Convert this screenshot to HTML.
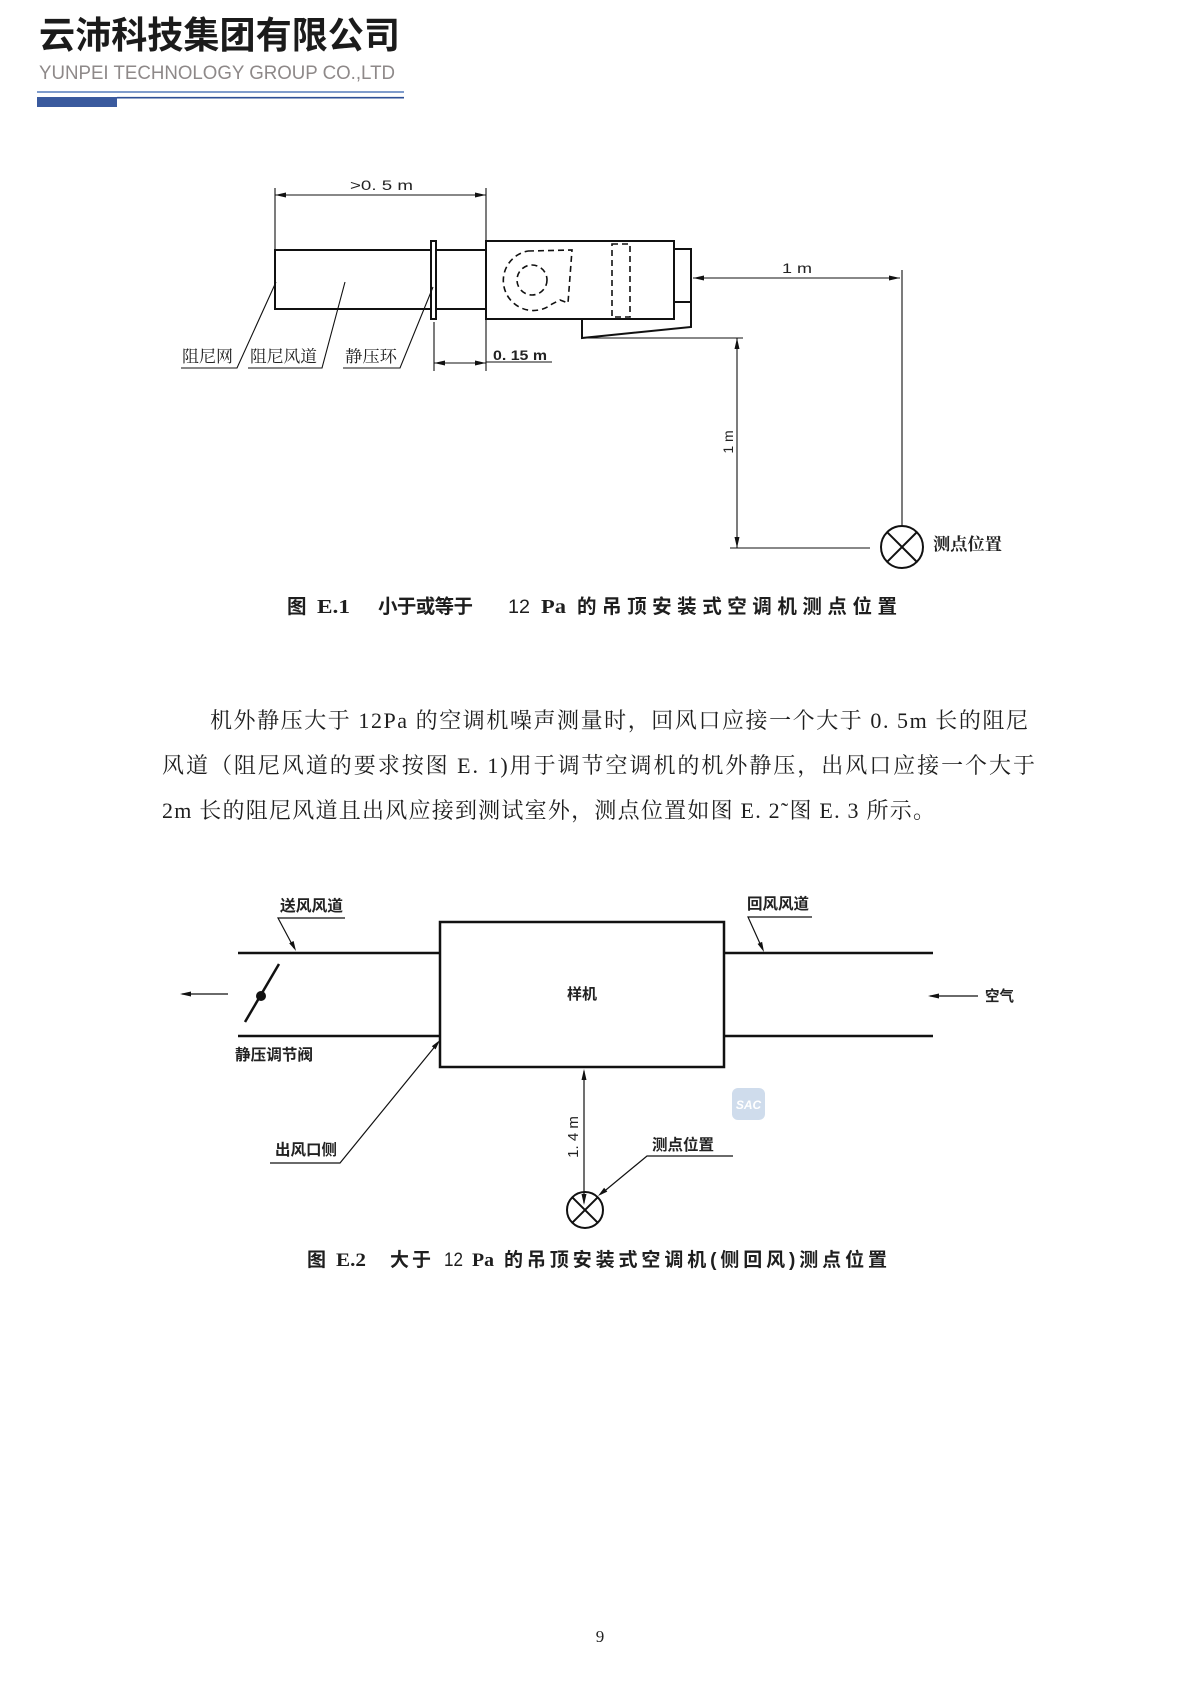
<!DOCTYPE html>
<html>
<head>
<meta charset="utf-8">
<style>
html,body{margin:0;padding:0;background:#fff;}
svg{display:block;}
.cj{font-family:"Liberation Sans","Noto Sans CJK SC",sans-serif;}
.sr{font-family:"Liberation Serif","Noto Serif CJK SC",serif;}
</style>
</head>
<body>
<svg width="1200" height="1697" viewBox="0 0 1200 1697" xmlns="http://www.w3.org/2000/svg">
<rect x="0" y="0" width="1200" height="1697" fill="#fff"/>

<!-- Header -->
<text x="39" y="48" class="cj" font-size="37" font-weight="700" fill="#1b1b1b" textLength="361" lengthAdjust="spacingAndGlyphs">云沛科技集团有限公司</text>
<text x="39" y="79" font-family="Liberation Sans, sans-serif" font-size="19.5" fill="#8e8989" textLength="356" lengthAdjust="spacingAndGlyphs">YUNPEI TECHNOLOGY GROUP CO.,LTD</text>
<line x1="37" y1="92" x2="404" y2="92" stroke="#7f9ccc" stroke-width="2"/>
<rect x="37" y="97" width="80" height="10" fill="#3a5a9e"/>
<line x1="117" y1="97.7" x2="404" y2="97.7" stroke="#2d4f96" stroke-width="1.6"/>

<!-- ========== Figure E.1 ========== -->
<g stroke="#111" fill="none" stroke-width="2">
  <rect x="275" y="250" width="211" height="59"/>
  <rect x="431" y="241" width="5" height="78" fill="#fff"/>
  <rect x="486" y="241" width="188" height="78"/>
  <rect x="674" y="249" width="17" height="53"/>
  <polyline points="582,319 582,338 691,327 691,302"/>
</g>
<g stroke="#111" fill="none" stroke-width="1.6" stroke-dasharray="6,4">
  <path d="M 528 251 L 572 250 L 568 303 L 560 300 L 552 304 A 30 30 0 1 1 528 251"/>
  <circle cx="532" cy="280" r="15"/>
  <rect x="612" y="244" width="18" height="73"/>
</g>

<g stroke="#111" stroke-width="1.1" fill="none">
  <line x1="275" y1="188" x2="275" y2="250"/>
  <line x1="486" y1="188" x2="486" y2="241"/>
  <line x1="275" y1="195" x2="486" y2="195"/>
  <line x1="434" y1="322" x2="434" y2="371"/>
  <line x1="486" y1="319" x2="486" y2="371"/>
  <line x1="434" y1="363" x2="486" y2="363"/>
  <line x1="486" y1="362" x2="552" y2="362"/>
  <line x1="693" y1="278" x2="900" y2="278"/>
  <line x1="902" y1="270" x2="902" y2="526"/>
  <line x1="582" y1="338" x2="743" y2="338"/>
  <line x1="737" y1="338" x2="737" y2="548"/>
  <line x1="730" y1="548" x2="870" y2="548"/>
  <polyline points="276,282 237,368 181,368"/>
  <polyline points="345,282 322,368 248,368"/>
  <polyline points="433,287 400,368 343,368"/>
</g>
<g fill="#111">
  <polygon points="275,195 286,192.5 286,197.5"/>
  <polygon points="486,195 475,192.5 475,197.5"/>
  <polygon points="434,363 445,360.5 445,365.5"/>
  <polygon points="486,363 475,360.5 475,365.5"/>
  <polygon points="693,278 704,275.5 704,280.5"/>
  <polygon points="900,278 889,275.5 889,280.5"/>
  <polygon points="737,338 734.5,349 739.5,349"/>
  <polygon points="737,548 734.5,537 739.5,537"/>
</g>
<g stroke="#111" stroke-width="2" fill="none">
  <circle cx="902" cy="547" r="21"/>
  <line x1="887" y1="532" x2="917" y2="562"/>
  <line x1="917" y1="532" x2="887" y2="562"/>
</g>

<text x="350" y="190" font-family="Liberation Sans, sans-serif" font-size="14" fill="#222" textLength="63" lengthAdjust="spacingAndGlyphs">&gt;0. 5  m</text>
<text x="493" y="360" font-family="Liberation Sans, sans-serif" font-size="14" font-weight="700" fill="#222" textLength="54" lengthAdjust="spacingAndGlyphs">0. 15 m</text>
<text x="782" y="273" font-family="Liberation Sans, sans-serif" font-size="14" fill="#222" textLength="30" lengthAdjust="spacingAndGlyphs">1  m</text>
<text x="733" y="442" font-family="Liberation Sans, sans-serif" font-size="14" fill="#222" text-anchor="middle" transform="rotate(-90 733 442)">1  m</text>
<text x="182" y="362" class="sr" font-size="16.5" fill="#222" textLength="51" lengthAdjust="spacingAndGlyphs">阻尼网</text>
<text x="250" y="362" class="sr" font-size="16.5" fill="#222" textLength="67" lengthAdjust="spacingAndGlyphs">阻尼风道</text>
<text x="345" y="362" class="sr" font-size="16.5" fill="#222" textLength="52" lengthAdjust="spacingAndGlyphs">静压环</text>
<text x="933" y="550" class="sr" font-size="17" font-weight="700" fill="#222" textLength="69" lengthAdjust="spacingAndGlyphs">测点位置</text>

<!-- Caption 1 -->
<g class="cj" font-size="19.5" font-weight="700" fill="#1e1e1e">
  <text x="287" y="613">图</text>
  <text x="317" y="613" font-family="Liberation Serif, serif" textLength="33" lengthAdjust="spacingAndGlyphs">E.1</text>
  <text x="378" y="613" textLength="95" lengthAdjust="spacing">小于或等于</text>
  <text x="508" y="613" font-weight="400" font-family="Liberation Sans, sans-serif" textLength="22" lengthAdjust="spacingAndGlyphs">12</text>
  <text x="541" y="613" font-family="Liberation Serif, serif" textLength="25" lengthAdjust="spacingAndGlyphs">Pa</text>
  <text x="577" y="613" textLength="320" lengthAdjust="spacing">的吊顶安装式空调机测点位置</text>
</g>

<!-- Paragraph -->
<text x="210" y="728" class="sr" font-size="22" fill="#1e1e1e" textLength="818" lengthAdjust="spacing">机外静压大于 12Pa 的空调机噪声测量时，回风口应接一个大于 0. 5m 长的阻尼</text>
<text x="162" y="773" class="sr" font-size="22" fill="#1e1e1e" textLength="873" lengthAdjust="spacing">风道（阻尼风道的要求按图 E. 1)用于调节空调机的机外静压，出风口应接一个大于</text>
<text x="162" y="818" class="sr" font-size="22" fill="#1e1e1e" textLength="773" lengthAdjust="spacing">2m 长的阻尼风道且出风应接到测试室外，测点位置如图 E. 2˜图 E. 3 所示。</text>

<!-- ========== Figure E.2 ========== -->
<g stroke="#111" stroke-width="2.5" fill="none">
  <line x1="238" y1="953" x2="440" y2="953"/>
  <line x1="238" y1="1036" x2="440" y2="1036"/>
  <rect x="440" y="922" width="284" height="145"/>
  <line x1="724" y1="953" x2="933" y2="953"/>
  <line x1="724" y1="1036" x2="933" y2="1036"/>
  <line x1="245" y1="1022" x2="279" y2="964"/>
</g>
<circle cx="261" cy="996" r="5" fill="#111"/>
<g stroke="#111" stroke-width="1.2" fill="none">
  <line x1="182" y1="994" x2="228" y2="994"/>
  <line x1="930" y1="996" x2="978" y2="996"/>
  <polyline points="345,918 278,918 294,948"/>
  <polyline points="812,917 748,917 762,948"/>
  <polyline points="270,1163 340,1163 437,1044"/>
  <polyline points="733,1156 647,1156 601,1194"/>
  <line x1="584" y1="1071" x2="584" y2="1203"/>
</g>
<g fill="#111">
  <polygon points="180,994 191,991.5 191,996.5"/>
  <polygon points="928,996 939,993.5 939,998.5"/>
  <polygon points="296,951 289.2,943.2 293.6,941.0"/>
  <polygon points="764,952 757.6,943.9 762.1,941.9"/>
  <polygon points="440,1040 435.6,1049.4 431.8,1046.2"/>
  <polygon points="598,1196 604.1,1187.8 607.3,1191.6"/>
  <polygon points="584,1069 581.5,1080 586.5,1080"/>
  <polygon points="584,1205 581.5,1194 586.5,1194"/>
</g>
<g stroke="#111" stroke-width="2" fill="none">
  <circle cx="585" cy="1210" r="18"/>
  <line x1="572.3" y1="1197.3" x2="597.7" y2="1222.7"/>
  <line x1="597.7" y1="1197.3" x2="572.3" y2="1222.7"/>
</g>

<!-- SAC watermark -->
<rect x="732" y="1088" width="33" height="32" rx="6" fill="#cfdcec"/>
<text x="748.5" y="1109" text-anchor="middle" font-family="Liberation Sans, sans-serif" font-size="12" font-weight="700" font-style="italic" fill="#fff">SAC</text>

<!-- Fig 2 labels -->
<text x="280" y="911" class="cj" font-size="15.5" font-weight="700" fill="#222" textLength="63" lengthAdjust="spacingAndGlyphs">送风风道</text>
<text x="747" y="909" class="cj" font-size="15.5" font-weight="700" fill="#222" textLength="62" lengthAdjust="spacingAndGlyphs">回风风道</text>
<text x="235" y="1060" class="cj" font-size="15.5" font-weight="700" fill="#222" textLength="78" lengthAdjust="spacingAndGlyphs">静压调节阀</text>
<text x="567" y="999" class="cj" font-size="15" font-weight="700" fill="#222" textLength="30" lengthAdjust="spacingAndGlyphs">样机</text>
<text x="985" y="1001" class="cj" font-size="15" font-weight="700" fill="#222" textLength="29" lengthAdjust="spacingAndGlyphs">空气</text>
<text x="275" y="1155" class="cj" font-size="15.5" font-weight="700" fill="#222" textLength="62" lengthAdjust="spacingAndGlyphs">出风口侧</text>
<text x="652" y="1150" class="cj" font-size="15.5" font-weight="700" fill="#222" textLength="62" lengthAdjust="spacingAndGlyphs">测点位置</text>
<text x="578" y="1137" font-family="Liberation Sans, sans-serif" font-size="15" fill="#222" text-anchor="middle" transform="rotate(-90 578 1137)">1. 4  m</text>

<!-- Caption 2 -->
<g class="cj" font-size="19" font-weight="700" fill="#1e1e1e">
  <text x="307" y="1266">图</text>
  <text x="336" y="1266" font-family="Liberation Serif, serif" textLength="30" lengthAdjust="spacingAndGlyphs">E.2</text>
  <text x="390" y="1266" textLength="41" lengthAdjust="spacing">大于</text>
  <text x="444" y="1266" font-weight="400" font-family="Liberation Sans, sans-serif" textLength="19" lengthAdjust="spacingAndGlyphs">12</text>
  <text x="472" y="1266" font-family="Liberation Serif, serif" textLength="22" lengthAdjust="spacingAndGlyphs">Pa</text>
  <text x="504" y="1266" textLength="383" lengthAdjust="spacing">的吊顶安装式空调机(侧回风)测点位置</text>
</g>

<!-- Page number -->
<text x="600" y="1642" text-anchor="middle" font-family="Liberation Serif, serif" font-size="17" fill="#222">9</text>
</svg>
</body>
</html>
